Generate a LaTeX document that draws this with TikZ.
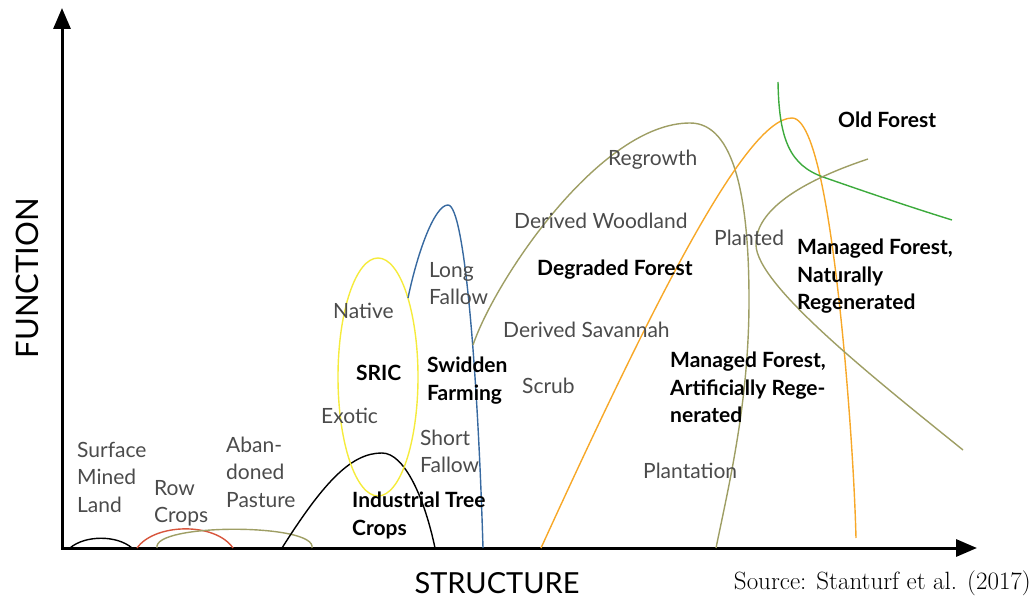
\documentclass[tikz,border=0pt]{standalone}
\usepackage{fontspec}
\setsansfont{Lato}
\usetikzlibrary{arrows.meta}
\definecolor{txtgray}{RGB}{75,75,75}
\definecolor{olivec}{RGB}{158,158,100}
\definecolor{orangec}{RGB}{247,168,40}
\definecolor{greenc}{RGB}{60,170,60}
\definecolor{bluec}{RGB}{55,105,160}
\definecolor{redc}{RGB}{215,85,60}
\definecolor{yellowc}{RGB}{245,235,60}

\tikzset{
  lbl/.style={font=\sffamily\fontsize{21}{27.3}\selectfont, text=txtgray,
    anchor=north west, align=left, inner sep=0pt},
  blbl/.style={lbl, font=\sffamily\bfseries\fontsize{21}{27.3}\selectfont, text=black},
  curve/.style={line width=1.4pt},
  axis/.style={line width=3pt, {Triangle[length=21pt,width=17pt]}-{Triangle[length=21pt,width=17pt]}},
}

\begin{document}
\begin{tikzpicture}[x=1pt,y=-1pt]
        \useasboundingbox (0,0) rectangle (1036,601);
        % Axes
        \coordinate (origin) at (62,548);
        \coordinate (ytip) at (62,8);
        \coordinate (xtip) at (977,548);
        \draw[axis] (ytip) -- (origin) -- (xtip);
        \node[rotate=90, font=\sffamily\fontsize{31}{31}\selectfont] (funclbl) at (27,278) {FUNCTION};
        \node[font=\sffamily\fontsize{29}{29}\selectfont] (structlbl) at (497,583) {STRUCTURE};
        \node[anchor=east, inner sep=0pt, font=\fontsize{25}{25}\selectfont] (srclbl) at (1031,583) {Source: Stanturf et al. (2017)};
        % Low land uses
        \draw[curve] (70,548) .. controls (85,535) and (117,535) .. (132,548);
        \draw[curve, redc] (137,548) .. controls (155,523) and (215,522) .. (233,548);
        \draw[curve, olivec] (157,548) .. controls (152,523) and (317,523) .. (312,548);
        \draw[curve] (282,548) .. controls (325,480) and (352,453) .. (382,453)
                     .. controls (405,453) and (425,500) .. (435,548);
        % SRIC and swidden
        \draw[curve, yellowc] (378,377) ellipse [x radius=40pt, y radius=119pt];
        \draw[curve, bluec] (408,298) .. controls (418,250) and (435,205) .. (448,205)
                            .. controls (465,205) and (478,380) .. (483,548);
        % Degraded forest
        \draw[curve, olivec] (473,345) .. controls (495,280) and (600,123) .. (690,123)
                             .. controls (735,123) and (749,200) .. (749,300)
                             .. controls (749,400) and (730,480) .. (716,548);
        % Managed forest, artificially regenerated
        \draw[curve, orangec] (541,548) .. controls (650,310) and (745,118) .. (792,118)
                              .. controls (818,118) and (835,250) .. (845,360)
                              .. controls (852,440) and (855,500) .. (856,538);
        % Old forest
        \draw[curve, greenc] (778,82) .. controls (779,140) and (790,165) .. (823,177)
                             .. controls (866,192) and (910,207) .. (952,220);
        % Managed forest, naturally regenerated
        \draw[curve, olivec] (868,159) .. controls (790,185) and (755,215) .. (756,245)
                             .. controls (757,285) and (870,375) .. (963,450);
        % Labels
        \node[lbl] (surface) at (77,442) {Surface\\Mined\\Land};
        \node[lbl] (rowcrops) at (154,480) {Row\\Crops};
        \node[lbl] (pasture) at (226,437) {Aban-\\doned\\Pasture};
        \node[blbl] (industrial) at (352,492) {Industrial Tree\\Crops};
        \node[lbl] (native) at (333,303) {Native};
        \node[blbl] (sric) at (356,365) {SRIC};
        \node[lbl] (exotic) at (321,408) {Exotic};
        \node[lbl] (longfallow) at (429,262) {Long\\Fallow};
        \node[blbl] (swidden) at (427,357) {Swidden\\Farming};
        \node[lbl] (shortfallow) at (420,430) {Short\\Fallow};
        \node[lbl] (regrowth) at (608,150) {Regrowth};
        \node[lbl] (woodland) at (514,213) {Derived Woodland};
        \node[blbl] (degraded) at (537,260) {Degraded Forest};
        \node[lbl] (savannah) at (503,322) {Derived Savannah};
        \node[lbl] (scrub) at (522,378) {Scrub};
        \node[lbl] (planted) at (714,230) {Planted};
        \node[blbl] (natural) at (797,239) {Managed Forest,\\Naturally\\Regenerated};
        \node[blbl] (artificial) at (670,352) {Managed Forest,\\Artificially Rege-\\nerated};
        \node[lbl] (plantation) at (643,463) {Plantation};
        \node[blbl] (oldforest) at (838,112) {Old Forest};
\end{tikzpicture}
\end{document}
